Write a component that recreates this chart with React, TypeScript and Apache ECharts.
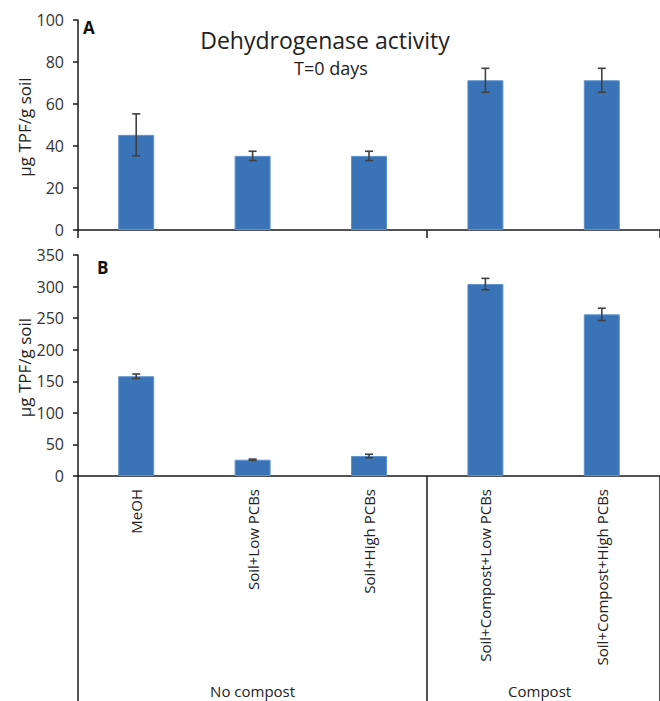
import React, { useEffect, useRef } from "react";
import * as echarts from "echarts";

const categories = [
  "MeOH",
  "Soil+Low PCBs",
  "Soil+High PCBs",
  "Soil+Compost+Low PCBs",
  "Soil+Compost+High PCBs",
];
const meanA = [45.3, 35.3, 35.3, 71.3, 71.3];
const errA = [10, 2.2, 2.2, 5.7, 5.7];
const meanB = [158, 25.8, 31.6, 304, 256];
const errB = [3.5, 1, 2.8, 9, 9.7];
const groups = ["No compost", "Compost"];
const yTitle = "µg TPF/g soil";

const FONT = "'Open Sans', 'Noto Sans', sans-serif";
const BAR = "#3a74b7";
const AXIS = "#1a1a1a";
const ERR = "#404040";

function errData(mean: number[], err: number[]) {
  return mean.map((m, i) => [i, m - err[i], m + err[i]]);
}

const renderErr = (params: any, api: any) => {
  const x = api.value(0);
  const lo = api.coord([x, api.value(1)]);
  const hi = api.coord([x, api.value(2)]);
  const hw = 4;
  const style = { stroke: ERR, lineWidth: 1.6 };
  return {
    type: "group",
    children: [
      { type: "line", shape: { x1: lo[0], y1: lo[1], x2: hi[0], y2: hi[1] }, style },
      { type: "line", shape: { x1: lo[0] - hw, y1: lo[1], x2: lo[0] + hw, y2: lo[1] }, style },
      { type: "line", shape: { x1: hi[0] - hw, y1: hi[1], x2: hi[0] + hw, y2: hi[1] }, style },
    ],
  };
};

export default function App() {
  const ref = useRef<HTMLDivElement>(null);
  useEffect(() => {
    if (!ref.current) return;
    const chart = echarts.init(ref.current, null, { renderer: "svg" });
    const axisLine = { show: true, lineStyle: { color: AXIS, width: 1.5 } };
    const yLabel = { fontFamily: FONT, fontSize: 16, color: "#333", margin: 14 };
    const yTick = { show: true, inside: false, length: 5, lineStyle: { color: AXIS, width: 1.5 } };
    const grids = [
      { left: 78, top: 20, width: 590, height: 210 },
      { left: 78, top: 255, width: 590, height: 221 },
    ];
    const option: any = {
      animation: false,
      grid: grids,
      xAxis: [
        {
          type: "category",
          gridIndex: 0,
          data: categories,
          axisLine,
          axisLabel: { show: false },
          axisTick: {
            show: true,
            length: 8,
            interval: (i: number) => i === 0 || i === 3,
            lineStyle: { color: AXIS, width: 1.5 },
          },
        },
        {
          type: "category",
          gridIndex: 1,
          data: categories,
          axisLine,
          axisLabel: {
            rotate: 90,
            interval: 0,
            margin: 13,
            fontFamily: FONT,
            fontSize: 15,
            color: "#222",
          },
          axisTick: {
            show: true,
            length: 226,
            interval: (i: number) => i === 0 || i === 3,
            lineStyle: { color: AXIS, width: 1.5 },
          },
        },
      ],
      yAxis: [
        {
          type: "value",
          gridIndex: 0,
          min: 0,
          max: 100,
          interval: 20,
          axisLine,
          axisTick: yTick,
          splitLine: { show: false },
          axisLabel: yLabel,
        },
        {
          type: "value",
          gridIndex: 1,
          min: 0,
          max: 350,
          interval: 50,
          axisLine,
          axisTick: yTick,
          splitLine: { show: false },
          axisLabel: yLabel,
        },
      ],
      series: [
        {
          type: "bar",
          xAxisIndex: 0,
          yAxisIndex: 0,
          data: meanA,
          barWidth: 36,
          itemStyle: { color: BAR, borderColor: "#5f93cf", borderWidth: 1 },
        },
        {
          type: "custom",
          xAxisIndex: 0,
          yAxisIndex: 0,
          data: errData(meanA, errA),
          renderItem: renderErr,
          encode: { x: 0, y: [1, 2] },
          z: 5,
        },
        {
          type: "bar",
          xAxisIndex: 1,
          yAxisIndex: 1,
          data: meanB,
          barWidth: 36,
          itemStyle: { color: BAR, borderColor: "#5f93cf", borderWidth: 1 },
        },
        {
          type: "custom",
          xAxisIndex: 1,
          yAxisIndex: 1,
          data: errData(meanB, errB),
          renderItem: renderErr,
          encode: { x: 0, y: [1, 2] },
          z: 5,
        },
      ],
    };
    chart.setOption(option);

    const px = (c: string) => {
      const p = chart.convertToPixel({ xAxisIndex: 1 } as any, c) as any;
      return typeof p === "number" ? p : p[0];
    };
    const gx0 = px(categories[1]);
    const gx1 = (px(categories[3]) + px(categories[4])) / 2 - 4;

    const yTitleText = (cy: number) => ({
      type: "text",
      x: 24,
      y: cy,
      rotation: Math.PI / 2,
      style: {
        text: yTitle,
        font: `17px ${FONT}`,
        fill: "#222",
        align: "center",
        verticalAlign: "middle",
      },
    });

    chart.setOption({
      graphic: [
        yTitleText(grids[0].top + grids[0].height / 2 + 2),
        yTitleText(grids[1].top + grids[1].height / 2 + 2),
        {
          type: "text",
          x: 325,
          y: 40,
          style: {
            text: "Dehydrogenase activity",
            font: `23px ${FONT}`,
            fill: "#222",
            align: "center",
            verticalAlign: "middle",
          },
        },
        {
          type: "text",
          x: 331,
          y: 68,
          style: {
            text: "T=0 days",
            font: `18px ${FONT}`,
            fill: "#222",
            align: "center",
            verticalAlign: "middle",
          },
        },
        {
          type: "text",
          x: 83,
          y: 27,
          style: { text: "A", font: `bold 17px ${FONT}`, fill: "#111", verticalAlign: "middle" },
        },
        {
          type: "text",
          x: 97,
          y: 267,
          style: { text: "B", font: `bold 17px ${FONT}`, fill: "#111", verticalAlign: "middle" },
        },
        {
          type: "text",
          x: gx0,
          y: 691,
          style: {
            text: groups[0],
            font: `15px ${FONT}`,
            fill: "#222",
            align: "center",
            verticalAlign: "middle",
          },
        },
        {
          type: "text",
          x: gx1,
          y: 691,
          style: {
            text: groups[1],
            font: `15px ${FONT}`,
            fill: "#222",
            align: "center",
            verticalAlign: "middle",
          },
        },
      ],
    });
    return () => chart.dispose();
  }, []);
  return (
    <div
      ref={ref}
      style={{ position: "fixed", left: 0, top: 0, width: 660, height: 701, background: "#fff" }}
    />
  );
}
